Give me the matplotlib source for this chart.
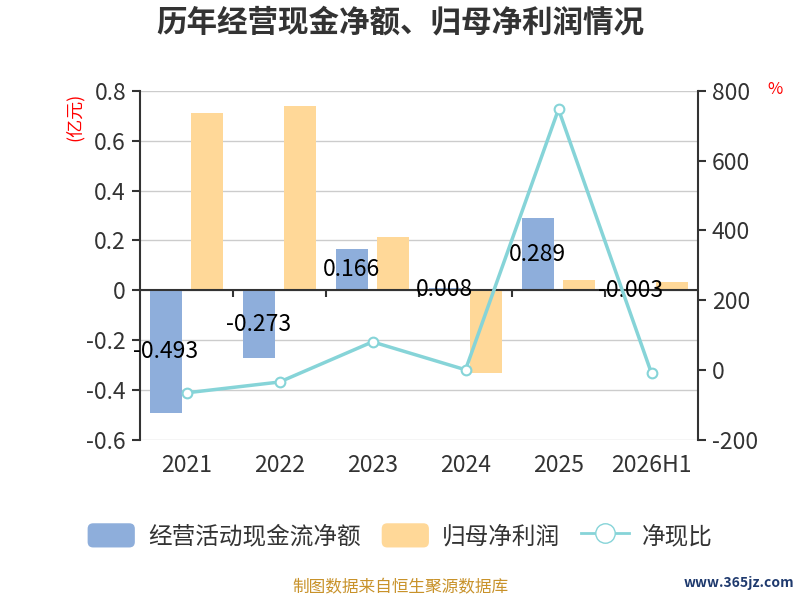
import numpy as np
import matplotlib
matplotlib.use("Agg")
import matplotlib.pyplot as plt
from matplotlib.patches import FancyBboxPatch, Patch
from matplotlib.lines import Line2D
from matplotlib.legend_handler import HandlerPatch

plt.rcParams['font.family'] = ['Noto Sans CJK SC', 'DejaVu Sans']
plt.rcParams['axes.unicode_minus'] = False

# data
years = ['2021', '2022', '2023', '2024', '2025', '2026H1']
cash_flow = [-0.493, -0.273, 0.166, 0.008, 0.289, -0.003]      # 经营活动现金流净额 (亿元)
net_profit = [0.711, 0.737, 0.213, -0.331, 0.040, 0.032]       # 归母净利润 (亿元)
cash_ratio = [-65, -34, 81, 1, 747, -9]                        # 净现比 (%)
left_ticks = [-0.6, -0.4, -0.2, 0, 0.2, 0.4, 0.6, 0.8]
right_ticks = [-200, 0, 200, 400, 600, 800]

blue = '#8EAEDB'
orange = '#FFD898'
teal = '#86D4D8'
txt = '#333333'


class RoundHandler(HandlerPatch):
    def create_artists(self, legend, orig_handle, xdescent, ydescent,
                       width, height, fontsize, trans):
        p = FancyBboxPatch((-xdescent + 2, -ydescent + 2), width - 4, height - 4,
                           boxstyle='round,pad=2,rounding_size=4',
                           facecolor=orig_handle.get_facecolor(),
                           edgecolor='none', transform=trans)
        return [p]


fig = plt.figure(figsize=(8, 6), dpi=100)
ax = fig.add_axes([0.175, 0.2667, 0.6975, 0.582])
ax2 = ax.twinx()

x = np.arange(len(years))
w = 0.345
ax.bar(x - 0.225, cash_flow, w, color=blue, zorder=2)
ax.bar(x + 0.225, net_profit, w, color=orange, zorder=2)

for xi, v in zip(x, cash_flow):
    ax.text(xi - 0.225, v / 2, f'{v:.3f}', ha='center', va='center',
            fontsize=16.5, color='black', zorder=3)

ax.set_xlim(-0.5, len(years) - 0.5)
ax.set_ylim(-0.6, 0.8)
ax.set_yticks(left_ticks)
ax.set_yticklabels(['0' if t == 0 else f'{t:.1f}' for t in left_ticks])
ax.grid(axis='y', color='#CCCCCC', linewidth=1, zorder=0)
ax.set_axisbelow(True)
ax.axhline(0, color=txt, linewidth=1.5, zorder=2.5)

# small ticks on the zero line between categories
y0 = 0.6 / 1.4
ax.vlines(x[:-1] + 0.5, y0 - 0.018, y0, color=txt, linewidth=1.5,
          transform=ax.get_xaxis_transform(), zorder=2.5)

ax.set_xticks(x)
ax.set_xticklabels(years)
ax.tick_params(axis='x', length=0, pad=10, labelsize=16.5, labelcolor=txt)
ax.tick_params(axis='y', length=6, width=1.5, color=txt, labelsize=16.5,
               labelcolor=txt, pad=4)
for s in ['top', 'bottom', 'right']:
    ax.spines[s].set_visible(False)
ax.spines['left'].set_color(txt)
ax.spines['left'].set_linewidth(1.5)

ax2.plot(x, cash_ratio, color=teal, linewidth=2.5, marker='o', markersize=7,
         markerfacecolor='white', markeredgecolor=teal, markeredgewidth=1.5,
         zorder=4)
ax2.set_ylim(-200, 800)
ax2.set_yticks(right_ticks)
ax2.tick_params(axis='y', length=6, width=1.5, color=txt, labelsize=16.5,
                labelcolor=txt, pad=4)
for s in ['top', 'bottom', 'left']:
    ax2.spines[s].set_visible(False)
ax2.spines['right'].set_color(txt)
ax2.spines['right'].set_linewidth(1.5)

fig.text(0.5, 0.962, '历年经营现金净额、归母净利润情况', ha='center', va='center',
         fontsize=22, fontweight='bold', color=txt)
fig.text(0.093, 0.805, '(亿元)', rotation=90, ha='center', va='center',
         fontsize=13, color='red')
fig.text(0.969, 0.85, '%', ha='center', va='center', fontsize=12, color='red')

handles = [Patch(facecolor=blue), Patch(facecolor=orange),
           Line2D([], [], color=teal, linewidth=2, marker='o', markersize=14,
                  markerfacecolor='white', markeredgecolor=teal)]
fig.legend(handles, ['经营活动现金流净额', '归母净利润', '净现比'],
           loc='center', bbox_to_anchor=(0.5, 0.107), ncol=3, frameon=False,
           fontsize=17, labelcolor=txt, handlelength=2.0, handleheight=1.2,
           handletextpad=0.55, columnspacing=0.9,
           handler_map={Patch: RoundHandler()})

fig.text(0.5, 0.02, '制图数据来自恒生聚源数据库', ha='center', va='center',
         fontsize=12, color='#C8922A')
fig.text(0.993, 0.028, 'www.365jz.com', ha='right', va='center',
         fontsize=10, color='#1F3A6E', fontweight='bold')

fig.savefig('out.png', dpi=100)
